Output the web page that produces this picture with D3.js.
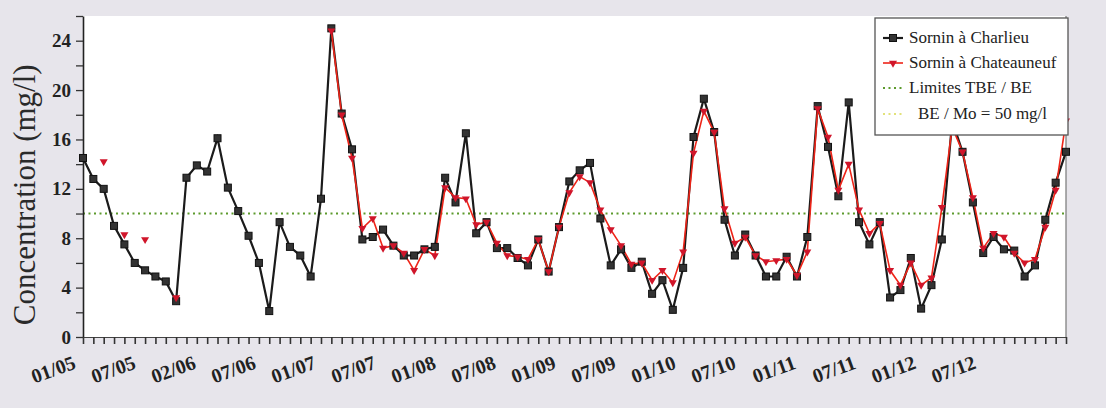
<!DOCTYPE html>
<html>
<head>
<meta charset="utf-8">
<script src="https://cdn.jsdelivr.net/npm/d3@7/dist/d3.min.js"></script>
<style>
  body { margin: 0; background: #e7e5eb; }
  svg { display: block; }
  text { font-family: "Liberation Serif", "DejaVu Serif", serif; }
</style>
</head>
<body>
<div id="chart"></div>
<script>
// sample number (one per tick on the x axis)
var samples = d3.range(96);

// Sornin à Charlieu
var charlieu = [
	14.5, 12.8, 12.0, 9.0, 7.5, 6.0, 5.4, 4.9, 4.5, 2.9,
	12.9, 13.9, 13.4, 16.1, 12.1, 10.2, 8.2, 6.0, 2.1, 9.3,
	7.3, 6.6, 4.9, 11.2, 25.0, 18.1, 15.2, 7.9, 8.1, 8.7,
	7.4, 6.6, 6.6, 7.1, 7.3, 12.9, 10.9, 16.5, 8.4, 9.3,
	7.2, 7.2, 6.4, 5.8, 7.9, 5.3, 8.9, 12.6, 13.5, 14.1,
	9.6, 5.8, 7.1, 5.6, 6.1, 3.5, 4.6, 2.2, 5.6, 16.2,
	19.3, 16.6, 9.5, 6.6, 8.3, 6.6, 4.9, 4.9, 6.5, 4.9,
	8.1, 18.7, 15.4, 11.4, 19.0, 9.3, 7.5, 9.3, 3.2, 3.8,
	6.4, 2.3, 4.2, 7.9, 17.5, 15.0, 10.9, 6.8, 8.1, 7.1,
	7.0, 4.9, 5.8, 9.5, 12.5, 15.0
];

// Sornin à Chateauneuf (null = no sample)
var chateauneuf = [
	null, null, 14.2, null, 8.3, null, 7.9, null, null, 3.2,
	null, null, null, null, null, null, null, null, null, null,
	null, null, null, null, 24.8, 18.0, 14.5, 8.8, 9.6, 7.2,
	7.4, 6.8, 5.4, 7.1, 6.6, 12.1, 11.3, 11.2, 9.1, 9.3,
	7.6, 6.6, 6.5, 6.3, 7.9, 5.3, 8.9, 11.7, 13.0, 12.5,
	10.3, 8.7, 7.4, 5.9, 6.0, 4.6, 5.4, 4.4, 6.9, 14.9,
	18.3, 16.6, 10.4, 7.6, 8.1, 6.6, 6.1, 6.2, 6.3, 5.0,
	6.9, 18.5, 16.2, 11.9, 14.0, 10.3, 8.4, 9.2, 5.4, 4.2,
	6.0, 4.2, 4.8, 10.5, 17.0, 15.0, 11.3, 7.2, 8.4, 8.1,
	6.8, 6.0, 6.3, 8.9, 11.9, 17.5
];

var thresholds = [10];

var tickLabels = ["01/05","07/05","02/06","07/06","01/07","07/07","01/08","07/08",
	"01/09","07/09","01/10","07/10","01/11","07/11","01/12","07/12"];
var samplesPerLabel = 5.8;

var yTicks = d3.range(0, 27, 2);
var yLabels = d3.range(0, 25, 4);

var width = 1106, height = 408;
var margin = {left:83, right:40, top:16, bottom:71};

var svg = d3.select("#chart")
	.append("svg")
	.attr("width", width)
	.attr("height", height);

svg.append("rect")
	.attr("width", width)
	.attr("height", height)
	.attr("fill", "#e7e5eb");

var xScale = d3.scaleLinear()
	.domain([0, samples.length - 1])
	.range([margin.left, width - margin.right]);

var yScale = d3.scaleLinear()
	.domain([0, 26])
	.range([height - margin.bottom, margin.top]);

// plot area
svg.append("rect")
	.attr("x", xScale(0))
	.attr("y", yScale(26))
	.attr("width", xScale(samples.length - 1) - xScale(0))
	.attr("height", yScale(0) - yScale(26))
	.attr("fill", "#ffffff");

svg.append("line")
	.attr("x1", xScale(samples.length - 1)).attr("x2", xScale(samples.length - 1))
	.attr("y1", yScale(26)).attr("y2", yScale(0))
	.attr("stroke", "#777").attr("stroke-width", 1.2);

// threshold
svg.selectAll(".thr")
	.data(thresholds)
	.enter().append("line")
	.attr("class", "thr")
	.attr("x1", xScale(0)).attr("x2", xScale(samples.length - 1))
	.attr("y1", function(d){ return yScale(d); })
	.attr("y2", function(d){ return yScale(d); })
	.attr("stroke", "#5c9a2c")
	.attr("stroke-width", 2)
	.attr("stroke-dasharray", "2,3.5");

// y axis
var yAxis = d3.axisLeft(yScale)
	.tickValues(yTicks)
	.tickFormat(function(d){ return yLabels.indexOf(d) >= 0 ? d : ""; })
	.tickSizeInner(7)
	.tickSizeOuter(0)
	.tickPadding(5);

var gy = svg.append("g")
	.attr("transform", "translate(" + margin.left + ",0)")
	.call(yAxis);
gy.attr("font-family", null);
gy.select(".domain").attr("stroke", "#222").attr("stroke-width", 1.6);
gy.selectAll(".tick line").attr("stroke", "#333").attr("stroke-width", 1.3);
gy.selectAll(".tick text")
	.attr("font-weight", "bold")
	.attr("font-size", 19)
	.attr("fill", "#222");

// x axis
var xAxis = d3.axisBottom(xScale)
	.tickValues(samples)
	.tickFormat("")
	.tickSizeInner(7)
	.tickSizeOuter(0);

var gx = svg.append("g")
	.attr("transform", "translate(0," + yScale(0) + ")")
	.call(xAxis);
gx.select(".domain").attr("stroke", "#444").attr("stroke-width", 1.2);
gx.selectAll(".tick line").attr("stroke", "#333").attr("stroke-width", 1.6);

svg.append("g")
	.selectAll("text")
	.data(tickLabels)
	.enter().append("text")
	.attr("transform", function(d, i){
		return "translate(" + (xScale(i * samplesPerLabel) - 6) + "," + (yScale(0) + 31) + ") rotate(-20)";
	})
	.attr("text-anchor", "end")
	.attr("font-weight", "bold")
	.attr("font-size", 20)
	.attr("fill", "#222")
	.text(function(d){ return d; });

// y title
svg.append("text")
	.attr("transform", "translate(35," + (yScale(11.6) + 1) + ") rotate(-90)")
	.attr("text-anchor", "middle")
	.attr("font-size", 31)
	.attr("fill", "#2a2a2a")
	.text("Concentration (mg/l)");

// series
var line = d3.line()
	.defined(function(d){ return d != null; })
	.x(function(d, i){ return xScale(i); })
	.y(function(d){ return yScale(d); });

svg.append("path")
	.datum(charlieu)
	.attr("d", line)
	.attr("fill", "none")
	.attr("stroke", "#1b1b1b")
	.attr("stroke-width", 2.2);

svg.append("path")
	.datum(chateauneuf)
	.attr("d", line)
	.attr("fill", "none")
	.attr("stroke", "#ee2418")
	.attr("stroke-width", 1.6);

svg.append("g")
	.selectAll("rect")
	.data(charlieu)
	.enter().append("rect")
	.attr("x", function(d, i){ return xScale(i) - 3.5; })
	.attr("y", function(d){ return yScale(d) - 3.5; })
	.attr("width", 7)
	.attr("height", 7)
	.attr("fill", "#333")
	.attr("stroke", "#111")
	.attr("stroke-width", 1);

var tri = d3.symbol().type(d3.symbolTriangle).size(28);
svg.append("g")
	.selectAll("path")
	.data(chateauneuf.map(function(d, i){ return {v:d, i:i}; }).filter(function(d){ return d.v != null; }))
	.enter().append("path")
	.attr("d", tri)
	.attr("transform", function(d){ return "translate(" + xScale(d.i) + "," + yScale(d.v) + ") rotate(180)"; })
	.attr("fill", "#d0152a");

// legend
var legend = svg.append("g").attr("transform", "translate(875,18)");
legend.append("rect")
	.attr("width", 193).attr("height", 117)
	.attr("fill", "#ffffff")
	.attr("stroke", "#555")
	.attr("stroke-width", 1.3);

var items = [
	{name:"Sornin à Charlieu", y:20},
	{name:"Sornin à Chateauneuf", y:45},
	{name:"Limites TBE / BE", y:70},
	{name:"BE / Mo = 50 mg/l", y:96}
];

legend.selectAll("text")
	.data(items)
	.enter().append("text")
	.attr("x", function(d, i){ return i == 3 ? 43 : 34; })
	.attr("y", function(d){ return d.y + 5; })
	.attr("font-size", 17)
	.attr("fill", "#222")
	.text(function(d){ return d.name; });

legend.append("line").attr("x1", 8).attr("x2", 28).attr("y1", 20).attr("y2", 20)
	.attr("stroke", "#1b1b1b").attr("stroke-width", 2.2);
legend.append("rect").attr("x", 14.5).attr("y", 16.5).attr("width", 7).attr("height", 7)
	.attr("fill", "#333").attr("stroke", "#111");
legend.append("line").attr("x1", 8).attr("x2", 28).attr("y1", 45).attr("y2", 45)
	.attr("stroke", "#ee2418").attr("stroke-width", 1.6);
legend.append("path").attr("d", tri).attr("transform", "translate(18,45) rotate(180)")
	.attr("fill", "#d0152a");
legend.append("line").attr("x1", 8).attr("x2", 30).attr("y1", 70).attr("y2", 70)
	.attr("stroke", "#5c9a2c").attr("stroke-width", 2).attr("stroke-dasharray", "2,3.5");
legend.append("line").attr("x1", 8).attr("x2", 30).attr("y1", 96).attr("y2", 96)
	.attr("stroke", "#e2e27a").attr("stroke-width", 2).attr("stroke-dasharray", "2,3.5");
</script>
</body>
</html>
